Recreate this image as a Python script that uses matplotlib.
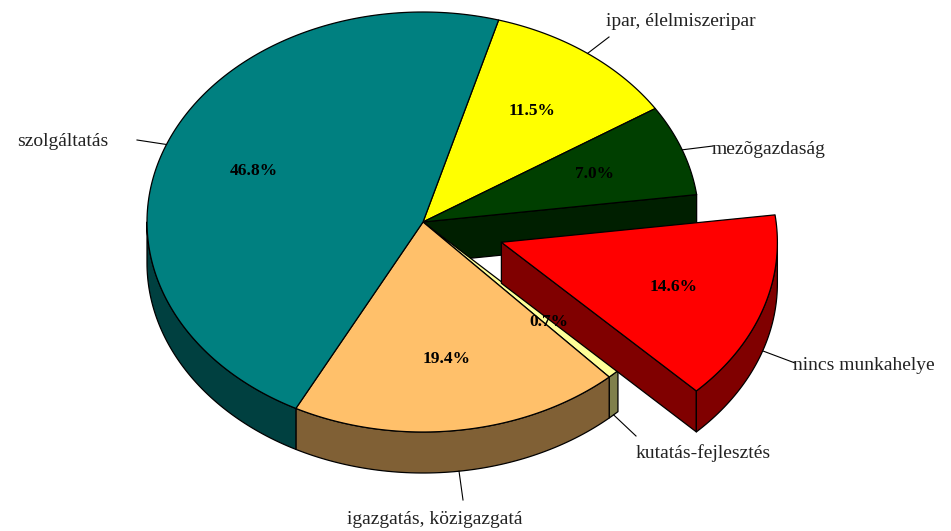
import numpy as np
import matplotlib
matplotlib.use("Agg")
import matplotlib.pyplot as plt
from matplotlib.patches import Polygon

# ---- data (clockwise from the first slice) ----
categories = ["ipar, élelmiszeripar", "mezõgazdaság", "nincs munkahelye",
              "kutatás-fejlesztés", "igazgatás, közigazgatá", "szolgáltatás"]
values = [11.5, 7.0, 14.6, 0.7, 19.4, 46.8]
pct_labels = ["11.5%", "7.0%", "14.6%", "0.7%", "19.4%", "46.8%"]
exploded = [False, False, True, False, False, False]

top_colors = ["#FFFF00", "#003F00", "#FF0000", "#FFFF99", "#FFC06A", "#008080"]
side_colors = ["#808000", "#001F00", "#800000", "#80804C", "#806035", "#004040"]

# ---- layout (pixel space) ----
W, H = 951, 531
cx, cy = 423, 222
a, b = 276, 210
depth = 41
explode_r = 0.30
start_angle = 15.9  # degrees clockwise from 12 o'clock

# label anchor positions (text x, y, ha) and leader end points
label_pos = [(606, 22, "left"), (712, 149, "left"), (793, 365, "left"),
             (636, 453, "left"), (435, 519, "center"), (108, 142, "right")]
leader_end = [(609, 37), (713, 146), (795, 363), (636, 436), (463, 500), (137, 140)]

fig = plt.figure(figsize=(W / 100, H / 100), dpi=100)
ax = fig.add_axes([0, 0, 1, 1])
ax.set_xlim(0, W)
ax.set_ylim(H, 0)
ax.axis("off")

total = sum(values)
angles = []
t = start_angle
for v in values:
    span = v / total * 360.0
    angles.append((t, t + span))
    t += span


def pt(theta, r=1.0, off=(0.0, 0.0), z=0.0):
    th = np.radians(theta)
    return (cx + off[0] + a * r * np.sin(th), cy + off[1] - b * r * np.cos(th) + z)


def offset_for(i):
    if not exploded[i]:
        return (0.0, 0.0)
    t0, t1 = angles[i]
    m = np.radians((t0 + t1) / 2)
    return (a * explode_r * np.sin(m), -b * explode_r * np.cos(m))


def arc(t0, t1, off, z=0.0):
    ts = np.linspace(t0, t1, max(2, int(abs(t1 - t0) / 1.0) + 2))
    return [pt(t, 1.0, off, z) for t in ts]


def draw_slice_sides(i, zo):
    t0, t1 = angles[i]
    off = offset_for(i)
    col = side_colors[i]
    segs = []
    for base in (0, 360):
        s0 = max(t0, 90 + base)
        s1 = min(t1, 270 + base)
        if s1 > s0:
            segs.append((s0, s1))
    for s0, s1 in segs:
        top = arc(s0, s1, off)
        bot = arc(s1, s0, off, depth)
        ax.add_patch(Polygon(top + bot, closed=True, fc=col, ec="black",
                             lw=0.9, zorder=zo, joinstyle="round"))


def radial_face(theta, off, col, zo):
    p0 = pt(theta, 0.0, off)
    p1 = pt(theta, 1.0, off)
    poly = [p0, p1, (p1[0], p1[1] + depth), (p0[0], p0[1] + depth)]
    ax.add_patch(Polygon(poly, closed=True, fc=col, ec="black", lw=0.9,
                         zorder=zo, joinstyle="round"))


def draw_top(i, zo):
    t0, t1 = angles[i]
    off = offset_for(i)
    poly = [pt(0, 0.0, off)] + arc(t0, t1, off)
    ax.add_patch(Polygon(poly, closed=True, fc=top_colors[i], ec="black",
                         lw=0.9, zorder=zo, joinstyle="round"))


n = len(values)
main = [i for i in range(n) if not exploded[i]]
exp = [i for i in range(n) if exploded[i]]

# main body faces exposed by the exploded gap
for i in exp:
    t0, t1 = angles[i]
    prev = (i - 1) % n
    nxt = (i + 1) % n
    if np.cos(np.radians(t0 + 90)) < 0:
        radial_face(t0, (0, 0), side_colors[prev], 1)
    if np.cos(np.radians(t1 - 90)) < 0:
        radial_face(t1, (0, 0), side_colors[nxt], 1)
for i in main:
    draw_slice_sides(i, 2)
for i in main:
    draw_top(i, 3)

# exploded slice
for i in exp:
    t0, t1 = angles[i]
    off = offset_for(i)
    if np.cos(np.radians(t1 + 90)) < 0:
        radial_face(t1, off, side_colors[i], 4)
    if np.cos(np.radians(t0 - 90)) < 0:
        radial_face(t0, off, side_colors[i], 4)
    draw_slice_sides(i, 5)
    draw_top(i, 6)

# percentage labels
for i, lab in enumerate(pct_labels):
    t0, t1 = angles[i]
    m = (t0 + t1) / 2
    x, y = pt(m, 0.66, offset_for(i))
    ax.text(x, y, lab, ha="center", va="center", fontsize=12.5, fontweight="bold",
            family="Liberation Serif", zorder=10)

# category labels with leader lines
for i, cat in enumerate(categories):
    t0, t1 = angles[i]
    m = (t0 + t1) / 2
    z = depth if np.cos(np.radians(m)) < 0 else 0
    sx, sy = pt(m, 1.0, offset_for(i), z)
    ex, ey = leader_end[i]
    ax.plot([sx, ex], [sy, ey], color="black", lw=0.8, zorder=9)
    tx, ty, ha = label_pos[i]
    ax.text(tx, ty, cat, ha=ha, va="center", fontsize=14,
            family="Liberation Serif", color="#222222", zorder=10)

fig.savefig("out.png", dpi=100)
